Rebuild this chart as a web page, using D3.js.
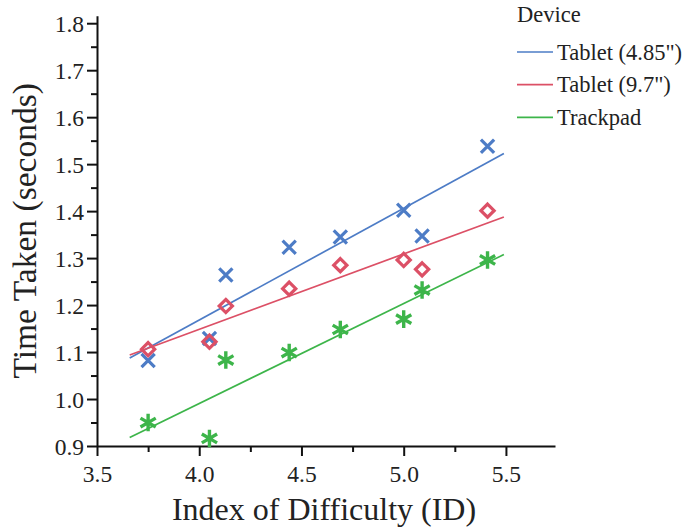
<!DOCTYPE html>
<html>
<head>
<meta charset="utf-8">
<script src="https://cdn.jsdelivr.net/npm/d3@7"></script>
<style>
  html, body { margin: 0; padding: 0; background: #fff; }
  svg { display: block; }
  text { font-family: "Liberation Serif", "Times New Roman", serif; fill: #222; }
</style>
</head>
<body>
<svg id="chart" width="683" height="528"></svg>
<script>
// ---- data ----
const ids = [3.75, 4.05, 4.13, 4.44, 4.69, 5.00, 5.09, 5.41];
const tablet485 = [1.082, 1.129, 1.264, 1.323, 1.345, 1.402, 1.347, 1.538];
const tablet97 = [1.106, 1.122, 1.198, 1.235, 1.285, 1.296, 1.276, 1.401];
const trackpad = [0.950, 0.916, 1.083, 1.099, 1.148, 1.170, 1.232, 1.296];
const deviceNames = ["Tablet (4.85\")", "Tablet (9.7\")", "Trackpad"];
const deviceColors = ["#4d7cc6", "#dc5066", "#3db54a"];
const deviceShapes = ["cross", "diamond", "asterisk"];
const fitRange = [3.66, 5.49];
const xTicks = [3.5, 4.0, 4.5, 5.0, 5.5];
const xMinorTicks = [3.75, 4.25, 4.75, 5.25];
const yTicks = [0.9, 1.0, 1.1, 1.2, 1.3, 1.4, 1.5, 1.6, 1.7, 1.8];
const yMinorTicks = [0.95, 1.05, 1.15, 1.25, 1.35, 1.45, 1.55, 1.65, 1.75];
const xTitle = "Index of Difficulty (ID)";
const yTitle = "Time Taken (seconds)";
const legendTitle = "Device";

const seriesValues = [tablet485, tablet97, trackpad];
const series = deviceNames.map((name, i) => ({
  name, color: deviceColors[i], shape: deviceShapes[i],
  points: ids.map((x, j) => ({ x, y: seriesValues[i][j] }))
}));

// ---- layout ----
const svg = d3.select("#chart");
const x = d3.scaleLinear().domain([3.5, 5.74]).range([97, 555]);
const y = d3.scaleLinear().domain([0.9, 1.816]).range([446, 15.7]);

// axes
const axisColor = "#111";
const xAxisG = svg.append("g").attr("transform", `translate(0,${y(0.9)})`);
xAxisG.call(d3.axisBottom(x).tickValues(xTicks).tickFormat(d3.format(".1f")).tickSize(10).tickSizeOuter(0));
const xMinorG = svg.append("g").attr("transform", `translate(0,${y(0.9)})`);
xMinorG.call(d3.axisBottom(x).tickValues(xMinorTicks).tickFormat("").tickSize(6).tickSizeOuter(0));
xMinorG.select(".domain").remove();

const yAxisG = svg.append("g").attr("transform", `translate(${x(3.5)},0)`);
yAxisG.call(d3.axisLeft(y).tickValues(yTicks).tickFormat(d3.format(".1f")).tickSize(10).tickSizeOuter(0));
const yMinorG = svg.append("g").attr("transform", `translate(${x(3.5)},0)`);
yMinorG.call(d3.axisLeft(y).tickValues(yMinorTicks).tickFormat("").tickSize(6).tickSizeOuter(0));
yMinorG.select(".domain").remove();

[xAxisG, xMinorG, yAxisG, yMinorG].forEach(g => {
  g.selectAll(".domain").attr("stroke", axisColor).attr("stroke-width", 2);
  g.selectAll(".tick line").attr("stroke", axisColor).attr("stroke-width", 2);
});
xAxisG.selectAll(".tick text")
  .attr("font-family", "Liberation Serif").attr("font-size", 23.5).attr("fill", "#222")
  .attr("y", 0).attr("dy", 0).attr("transform", "translate(0,36)")
  .attr("dominant-baseline", "auto");
yAxisG.selectAll(".tick text")
  .attr("font-family", "Liberation Serif").attr("font-size", 23.5).attr("fill", "#222")
  .attr("x", -13).attr("dy", "0.34em");

// axis titles
svg.append("text").attr("x", (x(3.5) + x(5.74)) / 2 - 2).attr("y", 520)
  .attr("text-anchor", "middle").attr("font-size", 32).text(xTitle);
svg.append("text").attr("transform", `translate(36,${(y(0.9) + y(1.816)) / 2}) rotate(-90)`)
  .attr("text-anchor", "middle").attr("font-size", 33.5).text(yTitle);

// regression lines
function fit(points) {
  const mx = d3.mean(points, d => d.x), my = d3.mean(points, d => d.y);
  const sxy = d3.sum(points, d => (d.x - mx) * (d.y - my));
  const sxx = d3.sum(points, d => (d.x - mx) ** 2);
  const b = sxy / sxx, a = my - b * mx;
  return fitRange.map(v => ({ x: v, y: a + b * v }));
}
const line = d3.line().x(d => x(d.x)).y(d => y(d.y));
svg.append("g").selectAll("path").data(series).join("path")
  .attr("d", s => line(fit(s.points)))
  .attr("fill", "none").attr("stroke", s => s.color).attr("stroke-width", 1.7);

// markers
function markerPath(shape) {
  const p = d3.path();
  if (shape === "cross") {
    const r = 6.6;
    p.moveTo(-r, -r); p.lineTo(r, r); p.moveTo(-r, r); p.lineTo(r, -r);
  } else if (shape === "diamond") {
    const r = 6.6;
    p.moveTo(0, -r); p.lineTo(r, 0); p.lineTo(0, r); p.lineTo(-r, 0); p.closePath();
  } else {
    const r = 8.8;
    [90, 30, 150].forEach(a => {
      const t = a * Math.PI / 180;
      p.moveTo(-r * Math.cos(t), -r * Math.sin(t));
      p.lineTo(r * Math.cos(t), r * Math.sin(t));
    });
  }
  return p.toString();
}
series.forEach(s => {
  svg.append("g").selectAll("path").data(s.points).join("path")
    .attr("transform", d => `translate(${x(d.x)},${y(d.y)})`)
    .attr("d", markerPath(s.shape))
    .attr("fill", "none").attr("stroke", s.color)
    .attr("stroke-width", s.shape === "asterisk" ? 3.4 : 3.2);
});

// legend
const lg = svg.append("g");
lg.append("text").attr("x", 517).attr("y", 22).attr("font-size", 22.5).text(legendTitle);
const items = lg.selectAll("g.item").data(series).join("g")
  .attr("class", "item").attr("transform", (d, i) => `translate(517,${52 + i * 32.7})`);
items.append("line").attr("x1", 0).attr("x2", 36).attr("y1", 0).attr("y2", 0)
  .attr("stroke", d => d.color).attr("stroke-width", 1.7);
items.append("text").attr("x", 40).attr("y", 7.5).attr("font-size", 22.5).text(d => d.name);
</script>
</body>
</html>
